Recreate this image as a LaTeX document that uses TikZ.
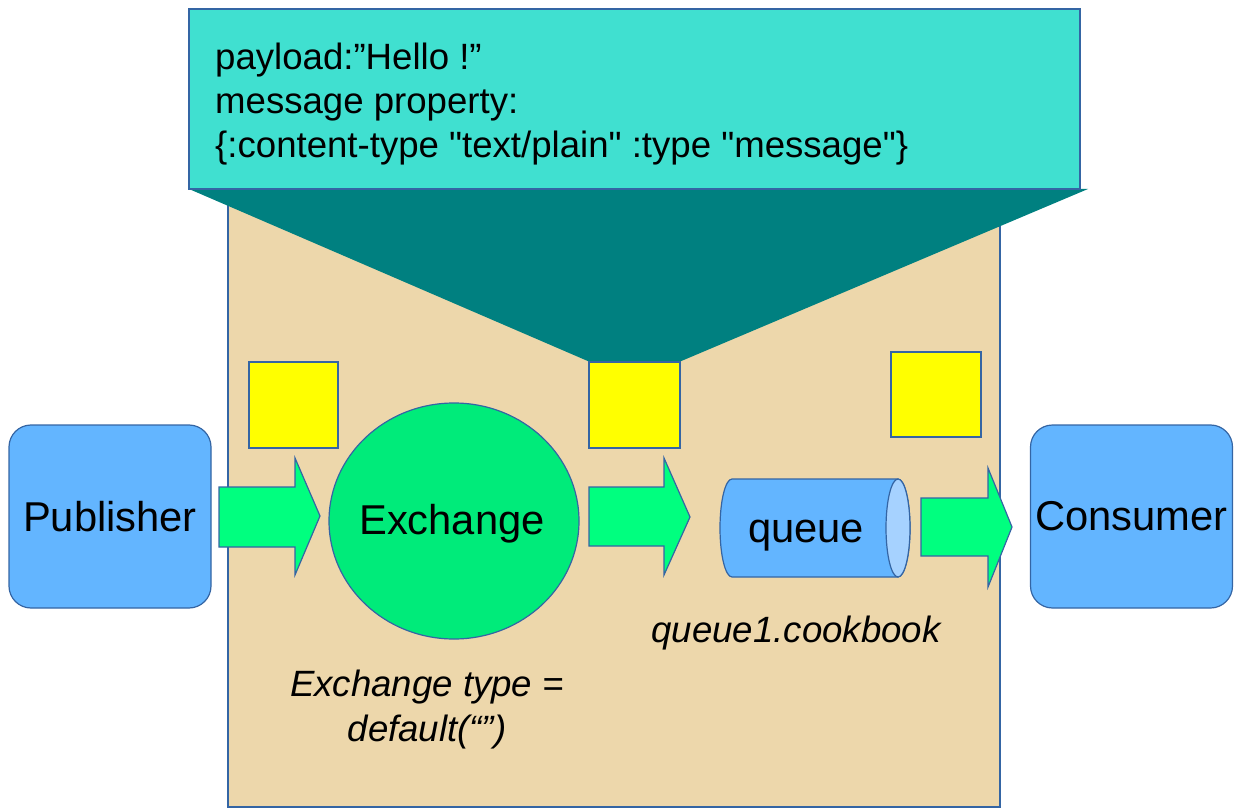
\documentclass[tikz,border=0pt]{standalone}
\usepackage{fontspec}
\newfontfamily\plainsans{Liberation Sans}
\usetikzlibrary{shapes.geometric}
\definecolor{edgeblue}{HTML}{3465A4}
\definecolor{turq}{HTML}{40E0D0}
\definecolor{tealdark}{HTML}{008080}
\definecolor{beige}{HTML}{EDD7AB}
\definecolor{yel}{HTML}{FFFF00}
\definecolor{arrgreen}{HTML}{00FF7F}
\definecolor{exgreen}{HTML}{00EB7A}
\definecolor{boxblue}{HTML}{63B5FF}
\definecolor{capblue}{HTML}{A6D2FF}
\begin{document}
\begin{tikzpicture}[x=1pt,y=-1pt,
  outl/.style={draw=edgeblue,line width=1.2pt},
  bigfont/.style={font=\plainsans\fontsize{41.7}{50}\selectfont},
  smallfont/.style={font=\plainsans\fontsize{36.6}{44}\selectfont},
  actor/.style={outl,fill=boxblue,rounded corners=22pt,minimum width=202pt,minimum height=183pt,inner sep=0pt,bigfont},
  msg/.style={outl,fill=yel,inner sep=0pt},
  blockarrow/.style={outl,fill=arrgreen,line join=miter},
  label/.style={inner sep=0pt}]
\useasboundingbox (0,0) rectangle (1234,810);
% broker area
\node[outl,fill=beige,minimum width=772pt,minimum height=612pt,inner sep=0pt] (broker) at (614,501) {};
% callout
\fill[tealdark] (189,189) -- (1088,189) -- (679,362) -- (590,362) -- cycle;
\node[outl,fill=turq,minimum width=891pt,minimum height=180pt,inner sep=0pt] (callout) at (634.5,99) {};
\node[anchor=west,inner sep=0pt,align=left,smallfont] (calltext) at (215,104)
  {payload:”Hello !”\\message property:\\\{:content-type "text/plain" :type "message"\}};
% messages
\node[msg,minimum width=89pt,minimum height=86pt] (m1) at (293.5,405) {};
\node[msg,minimum width=91pt,minimum height=86pt] (m2) at (634.5,405) {};
\node[msg,minimum width=90pt,minimum height=85pt] (m3) at (936,394.5) {};
% actors
\node[actor] (pub) at (110,516.5) {Publisher};
\node[actor] (con) at (1131.5,516.5) {Consumer};
\node[ellipse,outl,fill=exgreen,minimum width=250pt,minimum height=236pt,inner sep=0pt] (ex) at (454,521) {};
\node[bigfont,inner sep=0pt] (exlabel) at (452,524) {Exchange};
% queue cylinder
\filldraw[outl,fill=boxblue] (898,479) -- (732,479) arc[start angle=90,end angle=270,x radius=12pt,y radius=49pt] -- (898,577) arc[start angle=270,end angle=450,x radius=12pt,y radius=49pt] -- cycle;
\filldraw[outl,fill=capblue] (898,528) ellipse[x radius=12pt,y radius=49pt];
\node[bigfont,inner sep=0pt] (q) at (806,536) {queue};
% block arrows
\filldraw[blockarrow] (219,487) -- (295,487) -- (295,458) -- (320,516) -- (295,575) -- (295,547) -- (219,547) -- cycle;
\filldraw[blockarrow] (589,487) -- (664,487) -- (664,458) -- (690,517) -- (664,575) -- (664,546) -- (589,546) -- cycle;
\filldraw[blockarrow] (921,498) -- (988,498) -- (988,468) -- (1012,527) -- (988,587) -- (988,556) -- (921,556) -- cycle;
% labels
\node[label,font=\plainsans\fontsize{36.6}{44}\selectfont\itshape] (qname) at (796,633.5) {queue1.cookbook};
\node[label,align=center,font=\plainsans\fontsize{36.6}{45}\selectfont\itshape] (extype) at (427,710) {Exchange type =\\default(“”)};
\end{tikzpicture}
\end{document}
